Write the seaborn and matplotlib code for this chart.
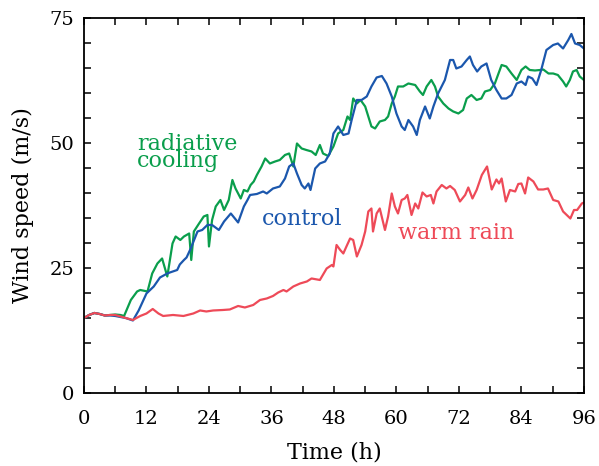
import numpy as np
import pandas as pd
import matplotlib
matplotlib.use("Agg")
import matplotlib.pyplot as plt
import seaborn as sns

# Maximum wind speed time series for three experiments
control_t = [0, 1, 2, 3, 4, 5, 6, 7, 8, 9.4, 10.5, 12, 13.4, 14.6, 16, 16.5, 17.9, 18.4, 19.2, 19.7,
             20.5, 21.8, 22.7, 23.7, 24.6, 25.9, 26.9, 28.2, 29.6, 30.7, 31.4, 31.9, 33.2, 34.4, 35.1,
             36.3, 37.6, 38.6, 39.4, 40.2, 40.9, 41.8, 42.4, 43.1, 43.5, 44.4, 45.3, 46.3, 47.2, 47.9,
             48.8, 49.8, 50.8, 51.4, 52.4, 53.3, 54.3, 55.2, 56.2, 57.2, 58.1, 59.1, 60.0, 61.0, 61.6,
             62.3, 63.2, 63.9, 64.5, 65.5, 66.4, 67.1, 68.0, 69.3, 70.3, 70.9, 71.5, 72.5, 73.5, 74.1,
             74.7, 75.5, 76.3, 77.3, 78.2, 79.2, 80.2, 81.1, 82.1, 83.1, 84.0, 84.8, 85.3, 86.1, 86.9,
             87.8, 88.8, 90.1, 91.0, 92.0, 93.0, 93.6, 94.3, 95.2, 96]
control_v = [15.0, 15.6, 16.0, 15.8, 15.5, 15.5, 15.4, 15.2, 15.0, 14.5, 16.5, 19.9, 21.3, 23.1, 23.9,
             24.1, 24.6, 25.7, 26.6, 27.1, 28.9, 32.3, 32.6, 33.6, 33.6, 32.6, 34.3, 35.9, 34.1, 37.3,
             38.6, 39.6, 39.8, 40.3, 39.9, 40.9, 41.3, 42.9, 45.3, 45.9, 43.9, 41.6, 40.9, 41.9, 40.6,
             44.9, 45.9, 46.3, 47.9, 51.9, 53.3, 51.6, 51.9, 54.6, 58.6, 58.6, 59.3, 61.3, 63.1, 63.4,
             61.9, 59.3, 55.9, 53.3, 52.6, 54.6, 53.3, 51.6, 54.6, 57.3, 54.9, 57.3, 59.9, 62.6, 66.6,
             66.6, 64.9, 65.3, 66.6, 67.3, 65.6, 64.3, 65.3, 65.9, 62.6, 60.6, 58.9, 58.9, 59.6, 61.9,
             62.3, 61.6, 63.3, 62.9, 61.6, 64.6, 68.6, 69.6, 69.9, 68.9, 70.6, 71.8, 69.9, 69.6, 68.9]

radiative_t = [0, 1, 2, 3, 4, 5, 6, 7, 7.7, 9, 10.2, 10.8, 12.2, 13.1, 14.1, 15, 16, 17, 17.6, 18.5,
               19.2, 20.2, 20.6, 21.1, 22.1, 23, 23.7, 24, 24.6, 25.3, 26.2, 26.9, 27.8, 28.5, 29.1,
               30.1, 30.7, 31.4, 32, 32.6, 33.2, 34.1, 34.8, 35.7, 36.7, 37.6, 38.6, 39.4, 40.2, 40.5,
               40.9, 41.8, 42.7, 43.7, 44.5, 45.3, 45.9, 46.9, 47.9, 48.8, 49.8, 50.6, 51.1, 51.7, 52.4,
               53.1, 54, 54.6, 55.2, 55.9, 56.8, 57.8, 58.4, 59.1, 59.7, 60.3, 61.3, 62.3, 63.6, 64.5,
               65.1, 65.8, 66.7, 67.4, 68.0, 69, 70, 70.9, 71.9, 72.8, 73.5, 74.4, 75.4, 76.3, 77, 78,
               78.9, 79.6, 80.2, 81.1, 82.1, 83.1, 84.0, 84.8, 85.6, 86.6, 87.6, 88.2, 89.2, 90.1, 91.0,
               92.0, 92.6, 93.3, 93.9, 94.6, 95.2, 96]
radiative_v = [15.0, 15.6, 16.0, 15.8, 15.5, 15.6, 15.7, 15.6, 15.4, 18.6, 20.3, 20.6, 20.3, 23.9, 25.9,
               26.9, 23.3, 29.9, 31.3, 30.6, 31.3, 31.9, 26.6, 32.3, 33.9, 35.3, 35.6, 29.3, 34.6, 37.3,
               38.6, 36.6, 38.6, 42.6, 40.9, 38.9, 40.6, 40.3, 41.6, 42.3, 43.6, 45.3, 46.9, 45.9, 46.3,
               46.6, 47.6, 47.9, 45.3, 47.3, 49.9, 48.9, 48.6, 48.3, 47.6, 49.6, 47.9, 47.4, 49.3, 51.9,
               52.6, 55.3, 54.6, 58.9, 57.9, 58.6, 57.3, 55.3, 53.3, 52.9, 54.3, 54.6, 55.3, 57.9, 59.3,
               61.3, 61.3, 61.9, 61.6, 60.3, 59.6, 61.3, 62.6, 61.3, 59.3, 57.9, 56.9, 56.3, 55.9, 56.6,
               58.9, 59.6, 58.6, 58.9, 60.3, 60.6, 61.9, 63.9, 65.6, 65.3, 63.9, 62.6, 64.6, 65.3, 64.6,
               64.5, 64.6, 64.7, 63.9, 63.9, 63.6, 62.3, 61.3, 62.6, 64.3, 64.6, 63.3, 62.6]

warmrain_t = [0, 1, 2, 3, 4, 5, 6, 7, 8, 9.4, 10.8, 12, 13.2, 14.3, 15.2, 17.1, 19.1, 21, 22.3, 23.5,
              24.8, 26.7, 28, 29.6, 30.9, 32.5, 33.8, 35.1, 36.3, 37.3, 38.3, 38.9, 40.2, 41.5, 42.8,
              43.7, 45.3, 46.6, 47.6, 47.9, 48.5, 49.2, 49.8, 50.4, 51.1, 51.7, 52.4, 53.3, 54.0, 54.6,
              55.2, 55.5, 56.2, 56.8, 57.8, 58.4, 59.1, 59.7, 60.3, 61.0, 61.6, 62.1, 62.9, 63.6, 64.2,
              65.0, 65.8, 66.6, 67.1, 67.7, 68.7, 69.6, 70.3, 71.2, 72.2, 73.2, 73.8, 74.6, 75.4, 76.4,
              77.4, 78.3, 79.2, 79.7, 80.2, 81.0, 81.8, 82.8, 83.4, 84.0, 84.7, 85.3, 86.3, 87.2, 88.2,
              89.1, 90.1, 91.1, 92.0, 92.7, 93.4, 94.1, 94.7, 95.6, 96]
warmrain_v = [15.0, 15.6, 16.0, 15.8, 15.5, 15.6, 15.6, 15.3, 15.0, 14.6, 15.4, 15.9, 16.8, 15.9, 15.4,
              15.6, 15.4, 15.9, 16.5, 16.3, 16.5, 16.6, 16.7, 17.4, 17.1, 17.6, 18.6, 18.9, 19.4, 20.1,
              20.6, 20.3, 21.3, 21.9, 22.3, 22.9, 22.6, 24.9, 25.6, 25.3, 29.6, 28.6, 27.9, 29.3, 30.9,
              30.6, 27.3, 29.6, 32.3, 36.3, 36.9, 32.3, 35.9, 36.9, 32.6, 35.3, 39.9, 37.3, 35.9, 38.6,
              38.9, 39.6, 35.6, 37.9, 36.9, 40.1, 39.3, 39.6, 37.9, 40.3, 41.6, 40.9, 41.4, 40.6, 38.3,
              39.6, 41.1, 38.9, 40.6, 43.6, 45.3, 40.7, 42.7, 41.9, 42.9, 38.3, 40.6, 40.3, 41.8, 41.9,
              39.9, 43.1, 42.3, 40.7, 40.7, 40.9, 38.6, 38.3, 36.3, 35.6, 34.9, 36.6, 36.6, 37.9, 38.1]

series_names = ["radiative cooling", "control", "warm rain"]
series_labels = ["radiative\ncooling", "control", "warm rain"]
series_colors = ["#0a9e4c", "#1b57ad", "#ee4a58"]

df = pd.concat([
    pd.DataFrame({"Time": radiative_t, "Wind": radiative_v, "run": series_names[0]}),
    pd.DataFrame({"Time": control_t, "Wind": control_v, "run": series_names[1]}),
    pd.DataFrame({"Time": warmrain_t, "Wind": warmrain_v, "run": series_names[2]}),
], ignore_index=True)

sns.set_theme(style="ticks")
plt.rcParams["font.family"] = ["DejaVu Serif"]

fig = plt.figure(figsize=(5.99, 4.66), dpi=100)
ax = fig.add_axes([0.1402, 0.1567, 0.8346, 0.8047])

sns.lineplot(data=df, x="Time", y="Wind", hue="run", hue_order=series_names,
             palette=series_colors, estimator=None, sort=False, legend=False,
             linewidth=1.6, ax=ax)

ax.set_xlim(0, 96)
ax.set_ylim(0, 75)
ax.set_xticks(np.arange(0, 97, 12))
ax.set_xticks(np.arange(6, 96, 12), minor=True)
ax.set_yticks(np.arange(0, 76, 25))
ax.set_yticks(np.arange(0, 76, 5), minor=True)
ax.tick_params(which="both", direction="in", top=True, right=True, length=5,
               width=1.1, color="black", labelsize=14, labelcolor="black")
ax.tick_params(axis="x", which="both", pad=12)
ax.tick_params(axis="y", which="both", pad=7)
for s in ax.spines.values():
    s.set_linewidth(1.3)
    s.set_color("black")

ax.set_xlabel("Time (h)", fontsize=16, color="black")
ax.set_ylabel("Wind speed (m/s)", fontsize=16, color="black")
ax.xaxis.set_label_coords(0.5, -0.13)
ax.yaxis.set_label_coords(-0.10, 0.5)

# Curve labels placed beside each line (last-line baseline anchored)
label_pos = [(10.2, 45.2), (34.2, 33.6), (60.3, 30.7)]
for text, color, (lx, ly) in zip(series_labels, series_colors, label_pos):
    ax.text(lx, ly, text, color=color, fontsize=16, va="baseline", ha="left",
            linespacing=0.72)

fig.savefig("out.png", dpi=100)
